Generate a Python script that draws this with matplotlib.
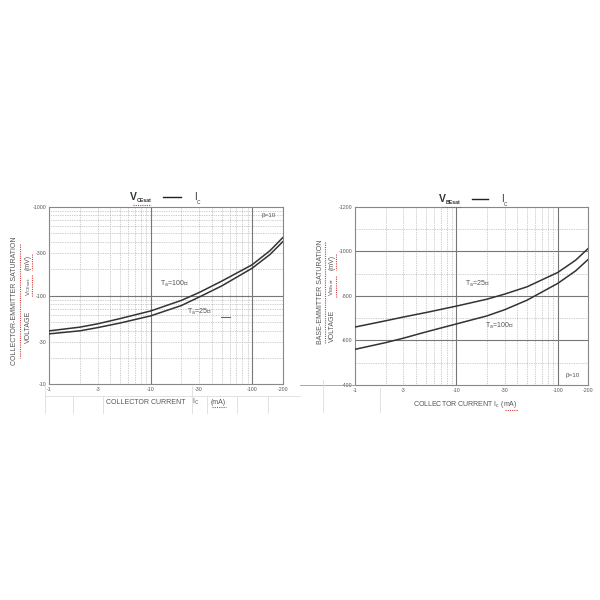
import matplotlib
matplotlib.use("Agg")
import matplotlib.pyplot as plt
from matplotlib.lines import Line2D

plt.rcParams['font.family'] = ['Liberation Sans', 'DejaVu Sans']

# collector current (mA, shown as negative values)
ic = [1, 2, 3, 5, 10, 20, 30, 50, 100, 150, 200]
# VCE(sat) in mV
vce_100 = [40, 44, 48, 55, 67, 88, 108, 145, 222, 320, 448]
vce_25 = [37, 40, 43.5, 49, 59, 77, 96, 128, 203, 290, 403]
# VBE(sat) in mV
vbe_25 = [660, 688, 705, 725, 754, 785, 808, 841, 905, 960, 1013]
vbe_100 = [560, 590, 610, 638, 674, 710, 738, 781, 856, 912, 964]

x_ticks = [1, 3, 10, 30, 100, 200]
x_labels = ['-1', '-3', '-10', '-30', '-100', '-200']
x_minor = [2, 3, 4, 5, 6, 7, 8, 9, 20, 30, 40, 50, 60, 70, 80, 90]
x_major = [10, 100]

vce_ticks = [10, 30, 100, 300, 1000]
vce_labels = ['-10', '-30', '-100', '-300', '-1000']
vce_minor = [20, 30, 40, 50, 60, 70, 80, 90, 200, 300, 400, 500, 600, 700, 800, 900]
vce_major = [100]

vbe_ticks = [400, 600, 800, 1000, 1200]
vbe_labels = ['-400', '-600', '-800', '-1000', '-1200']
vbe_minor = [500, 700, 900, 1100]
vbe_major = [600, 800, 1000]

W, H = 600.0, 600.0
fig = plt.figure(figsize=(6, 6), dpi=100)
fig.patch.set_facecolor('white')

tc = '#555555'
gc = '#777777'


def fx(x):
    return x / W


def fy(y):
    return 1 - y / H


def fline(x0, y0, x1, y1, **kw):
    fig.add_artist(Line2D([fx(x0), fx(x1)], [fy(y0), fy(y1)], **kw))


def ftext(x, y, s, **kw):
    kw.setdefault('color', tc)
    kw.setdefault('ha', 'left')
    kw.setdefault('va', 'center')
    fig.text(fx(x), fy(y), s, **kw)


def squiggle(x0, y0, x1, y1):
    fline(x0, y0, x1, y1, color='#d04040', lw=0.8, ls=(0, (1, 1)))


def setup(ax, yticks, ylabels, yminor, ymajor, ylog):
    ax.set_xscale('log')
    if ylog:
        ax.set_yscale('log')
    ax.set_xlim(1, 200)
    ax.set_ylim(yticks[0], yticks[-1])
    ax.set_xticks(x_ticks)
    ax.set_xticklabels(x_labels)
    ax.set_yticks(yticks)
    ax.set_yticklabels(ylabels)
    ax.minorticks_off()
    ax.tick_params(length=0, labelsize=3.8, labelcolor=tc, pad=2)
    for v in x_minor:
        ax.axvline(v, color='#a0a0a0', lw=0.5, ls=(0, (1, 1.5)), zorder=1)
    for v in yminor:
        ax.axhline(v, color='#a0a0a0', lw=0.5, ls=(0, (1, 1.5)), zorder=1)
    for v in x_major:
        ax.axvline(v, color=gc, lw=0.8, zorder=1)
    for v in ymajor:
        ax.axhline(v, color=gc, lw=0.8, zorder=1)
    for s in ax.spines.values():
        s.set_color('#888888')
        s.set_linewidth(0.8)


# ---- left chart: VCE(sat) ----
ax1 = fig.add_axes([fx(49.3), fy(384.3), fx(233.4), 177.6 / H])
setup(ax1, vce_ticks, vce_labels, vce_minor, vce_major, True)
ax1.plot(ic, vce_100, color='#333333', lw=1.1, zorder=3)
ax1.plot(ic, vce_25, color='#333333', lw=1.1, zorder=3)

ftext(160, 284, 'T$_{\\rm a}$=100℃', fontsize=5)
ftext(187, 312, 'T$_{\\rm a}$=25℃', fontsize=5)
fline(221, 317, 230, 317, color='#444444', lw=0.6)
ftext(262, 215, 'β=10', fontsize=4.5)

# title
ftext(130, 197, 'V', fontsize=7.5, weight='bold', color='#333333')
ftext(137, 201, 'CEsat', fontsize=3.8, weight='bold', color='#333333')
squiggle(133, 205, 151, 205)
fline(163, 197, 181, 197, color='#222222', lw=1.0)
ftext(194, 197, 'I', fontsize=7, color='#333333')
ftext(197, 202, 'C', fontsize=3.5, color='#333333')

# y label
ftext(15, 301, 'COLLECTOR-EMMITTER SATURATION', fontsize=5, rotation=90, ha='center')
squiggle(19.5, 244, 19.5, 358)
ftext(28.5, 327, 'VOLTAGE', fontsize=5, rotation=90, ha='center')
ftext(28.5, 287, 'V$_{\\rm CEsat}$', fontsize=4.5, rotation=90, ha='center')
ftext(28.5, 262, '(mV)', fontsize=5, rotation=90, ha='center')
squiggle(32, 275, 32, 297)
squiggle(32, 254, 32, 270)

# x label
ftext(106, 402, 'COLLECTOR CURRENT', fontsize=5)
ftext(192, 402, 'I$_{\\rm C}$', fontsize=5)
ftext(211, 402, '(mA)', fontsize=5)
squiggle(212, 407, 226, 407)

# faint table lines under the left chart
tl = dict(color='#dddddd', lw=0.6)
fline(45, 395.5, 300, 395.5, **tl)
for x in [45, 192]:
    fline(x, 386, x, 413, **tl)
for x in [73, 103, 207, 237, 268]:
    fline(x, 395.5, x, 413, **tl)

# ---- right chart: VBE(sat) ----
ax2 = fig.add_axes([fx(355), fy(385), fx(233.3), 178.3 / H])
setup(ax2, vbe_ticks, vbe_labels, vbe_minor, vbe_major, False)
ax2.plot(ic, vbe_25, color='#333333', lw=1.1, zorder=3)
ax2.plot(ic, vbe_100, color='#333333', lw=1.1, zorder=3)

ftext(465, 284, 'T$_{\\rm a}$=25℃', fontsize=5)
ftext(485, 326, 'T$_{\\rm a}$=100℃', fontsize=5)
ftext(566, 375, 'β=10', fontsize=4.5)

ftext(439, 199, 'V', fontsize=7.5, weight='bold', color='#333333')
ftext(446, 203, 'BEsat', fontsize=3.8, weight='bold', color='#333333')
squiggle(442, 207, 461, 207)
fline(472, 199, 488, 199, color='#222222', lw=1.0)
ftext(501, 199, 'I', fontsize=7, color='#333333')
ftext(504, 204, 'C', fontsize=3.5, color='#333333')

ftext(320, 292, 'BASE-EMMITTER SATURATION', fontsize=5, rotation=90, ha='center')
squiggle(324.5, 242, 324.5, 343)
ftext(332, 326, 'VOLTAGE', fontsize=5, rotation=90, ha='center')
ftext(332, 287, 'V$_{\\rm BEsat}$', fontsize=4.5, rotation=90, ha='center')
ftext(332, 262, '(mV)', fontsize=5, rotation=90, ha='center')
squiggle(335.5, 276, 335.5, 297)
squiggle(335.5, 254, 335.5, 270)

ftext(413, 405, 'COLLECTOR CURRENT I$_{\\rm c}$ (mA)', fontsize=5)
squiggle(505, 410, 518, 410)

fline(300, 385, 355, 385, color='#999999', lw=0.6)
fline(322.7, 380, 322.7, 412, **tl)
fline(380, 388, 380, 412, **tl)

fig.savefig('out.png', dpi=100, facecolor='white')
